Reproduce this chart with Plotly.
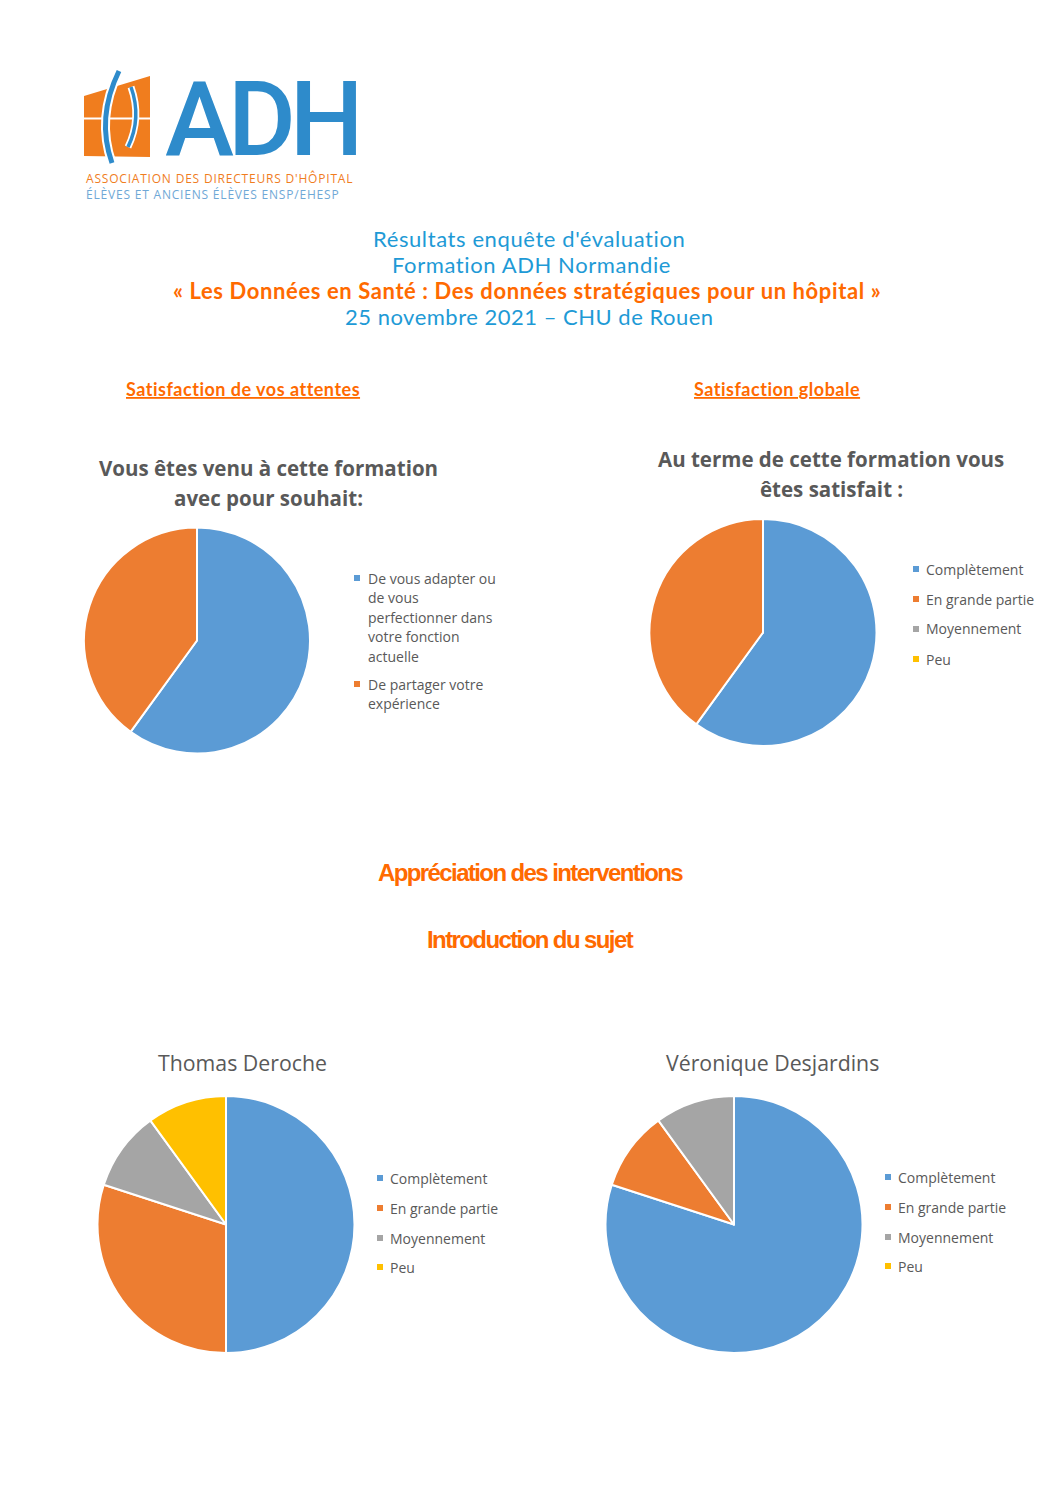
import plotly.graph_objects as go

# page is rendered inside an 8px body margin
OFF = 8
FW, FH = 1058 - 2 * OFF, 1497 - 2 * OFF

# ---------------- data ----------------
colors = ["#5B9BD5", "#ED7D31", "#A5A5A5", "#FFC000"]

souhait_title = ["Vous êtes venu à cette formation", "avec pour souhait:"]
souhait_labels = ["De vous adapter ou de vous perfectionner dans votre fonction actuelle",
                  "De partager votre expérience"]
souhait_lines = [["De vous adapter ou", "de vous", "perfectionner dans", "votre fonction", "actuelle"],
                 ["De partager votre", "expérience"]]
souhait_values = [60, 40]

satisf_title = ["Au terme de cette formation vous", "êtes satisfait :"]
satisf_labels = ["Complètement", "En grande partie", "Moyennement", "Peu"]
satisf_values = [60, 40, 0, 0]

deroche_title = "Thomas Deroche"
deroche_values = [50, 30, 10, 10]

desjardins_title = "Véronique Desjardins"
desjardins_values = [80, 10, 10, 0]

header_lines = ["Résultats enquête d'évaluation",
                "Formation ADH Normandie",
                "« Les Données en Santé : Des données stratégiques pour un hôpital »",
                "25 novembre 2021 – CHU de Rouen"]
section_titles = ["Satisfaction de vos attentes", "Satisfaction globale",
                  "Appréciation des interventions", "Introduction du sujet"]
logo_lines = ["ADH", "ASSOCIATION DES DIRECTEURS D'HÔPITAL", "ÉLÈVES ET ANCIENS ÉLÈVES ENSP/EHESP"]

# ---------------- helpers ----------------
def px(x):
    return (x - OFF) / FW

def py(y):
    return 1 - (y - OFF) / FH

BLUE_T = "#1E9AD6"
ORANGE = "#FF6A00"
GREY = "#595959"
LOGO_BLUE = "#2E8BCB"
LOGO_ORANGE = "#F07D1E"

fig = go.Figure()

def add_pie(labels, values, x0, x1, y0, y1):
    fig.add_trace(go.Pie(
        labels=labels, values=values, sort=False, direction="clockwise", rotation=0,
        marker=dict(colors=colors[:len(values)], line=dict(color="white", width=2)),
        textinfo="none", showlegend=False, hoverinfo="label+percent",
        domain=dict(x=[px(x0), px(x1)], y=[py(y1), py(y0)])))

add_pie(souhait_labels, souhait_values, 84, 310, 527, 754)
add_pie(satisf_labels, satisf_values, 649, 877, 519, 746)
add_pie(satisf_labels, deroche_values, 97, 355, 1096, 1353)
add_pie(satisf_labels, desjardins_values, 605, 863, 1096, 1353)

ann = []
shapes = []

def text(x, y, s, size, color, family="Open Sans", xanchor="center", yanchor="middle",
         weight="normal", ls=None, **kw):
    if ls is not None:
        s = f"<span style='letter-spacing:{ls}px'>{s}</span>"
    d = dict(x=px(x), y=py(y), xref="paper", yref="paper", text=s, showarrow=False,
             xanchor=xanchor, yanchor=yanchor, align="left" if xanchor == "left" else "center",
             font=dict(size=size, color=color, family=family, weight=weight))
    d.update(kw)
    ann.append(d)

# header
hdr_font = "Lato, Open Sans, sans-serif"
text(529, 239, header_lines[0], 22, BLUE_T, hdr_font, ls=0.6)
text(531, 265, header_lines[1], 22, BLUE_T, hdr_font, ls=0.6)
text(527, 291, header_lines[2], 22, ORANGE, hdr_font, weight="bold", ls=0.6)
text(529, 317, header_lines[3], 22, BLUE_T, hdr_font, ls=0.5)

# section headers
text(243, 389, f"<u>{section_titles[0]}</u>", 18, ORANGE, hdr_font, weight="bold", ls=0.5)
text(777, 389, f"<u>{section_titles[1]}</u>", 18, ORANGE, hdr_font, weight="bold", ls=0.5)

cond = "Liberation Sans, Arial, sans-serif"
text(530, 872, section_titles[2], 24, ORANGE, cond, weight="bold", ls=-1.6)
text(530, 939, section_titles[3], 24, ORANGE, cond, weight="bold", ls=-1.6)

# chart titles
text(268, 468, souhait_title[0], 20.5, GREY, weight="bold")
text(268, 498, souhait_title[1], 20.5, GREY, weight="bold")
text(831, 459, satisf_title[0], 20.5, GREY, weight="bold")
text(831, 489, satisf_title[1], 20.5, GREY, weight="bold")
text(242, 1062, deroche_title, 21.3, GREY)
text(772, 1062, desjardins_title, 21.3, GREY)

# legends
LEG_SIZE = 14
def legend_square(x, y, c):
    shapes.append(dict(type="rect", xref="paper", yref="paper",
                       x0=px(x - 3), x1=px(x + 3), y0=py(y + 3), y1=py(y - 3),
                       fillcolor=c, line=dict(width=0)))

starts = [578, 684]
for i, lines in enumerate(souhait_lines):
    legend_square(357, starts[i], colors[i])
    for j, ln in enumerate(lines):
        text(366, starts[i] + j * 19.6, ln, LEG_SIZE, GREY, xanchor="left")

def simple_legend(mx, tx, ys):
    for i, lab in enumerate(satisf_labels):
        legend_square(mx, ys[i], colors[i])
        text(tx, ys[i], lab, LEG_SIZE, GREY, xanchor="left")

simple_legend(916, 924, [569, 599, 629, 659])
simple_legend(380, 388, [1178, 1208, 1238, 1267])
simple_legend(888, 896, [1177, 1207, 1237, 1266])

# ---------------- logo ----------------
def path(points):
    return "M " + " L ".join(f"{px(x)},{py(y)}" for x, y in points) + " Z"

shapes.append(dict(type="path", xref="paper", yref="paper",
                   path=path([(84, 96), (150, 76), (150, 157), (84, 156)]),
                   fillcolor=LOGO_ORANGE, line=dict(width=0)))
shapes.append(dict(type="rect", xref="paper", yref="paper",
                   x0=px(84), x1=px(150), y0=py(119.5), y1=py(117.5),
                   fillcolor="white", line=dict(width=0)))
for w, c in [(9, "white"), (5, LOGO_BLUE)]:
    shapes.append(dict(type="path", xref="paper", yref="paper",
                       path=f"M {px(119)},{py(71)} Q {px(96)},{py(118)} {px(112)},{py(163)}",
                       line=dict(color=c, width=w)))
for w, c in [(7, "white"), (3.5, LOGO_BLUE)]:
    shapes.append(dict(type="path", xref="paper", yref="paper",
                       path=f"M {px(131)},{py(87)} Q {px(142)},{py(118)} {px(128)},{py(147)}",
                       line=dict(color=c, width=w)))

text(261, 119, logo_lines[0], 104, LOGO_BLUE, "Roboto, sans-serif", weight=500, ls=-6,
     height=84)
ann.append(dict(x=px(84), y=py(186.5), xref="paper", yref="paper", showarrow=False,
                xanchor="left", yanchor="middle", align="left",
                text=(f"<span style='letter-spacing:0.8px;fill:{LOGO_ORANGE}'>{logo_lines[1]}</span><br>"
                      f"<span style='letter-spacing:0.8px;fill:#6FA8D6'>{logo_lines[2]}</span>"),
                font=dict(size=12, color=LOGO_ORANGE, family="Open Sans")))

fig.update_layout(width=FW, height=FH, margin=dict(l=0, r=0, t=0, b=0),
                  paper_bgcolor="white", plot_bgcolor="white",
                  annotations=ann, shapes=shapes, showlegend=False)

fig.write_html("out.html")
